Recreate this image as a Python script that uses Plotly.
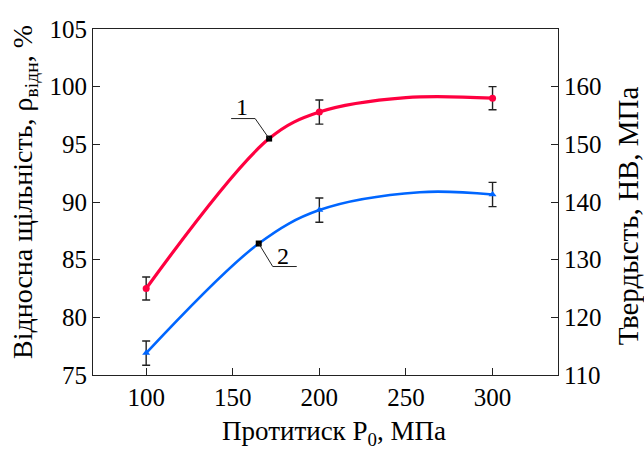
import plotly.graph_objects as go

# ---- data ----
# measured points (with error bars)
p_meas = [100, 200, 300]
dens_meas = [82.5, 97.8, 99.0]
dens_err = [1.0, 1.05, 1.0]
hard_meas = [113.8, 138.6, 141.3]
hard_err = [2.1, 2.1, 2.1]

# fitted curves
p_curve1 = [100, 171, 200, 250, 300]
dens_curve = [82.5, 95.5, 97.8, 99.05, 99.0]
p_curve2 = [100, 165, 200, 258, 300]
hard_curve = [113.8, 132.8, 138.6, 141.7, 141.3]

# labelled points on the curves
label1 = (171, 95.5)
label2 = (165, 132.8)

x_ticks = [100, 150, 200, 250, 300]
y1_ticks = [75, 80, 85, 90, 95, 100, 105]
y2_ticks = [110, 120, 130, 140, 150, 160]

RED = "#FF0040"
BLUE = "#0066FF"
FONT = "Liberation Serif, Times New Roman, DejaVu Serif, serif"

fig = go.Figure()

fig.add_trace(go.Scatter(x=p_curve1, y=dens_curve, mode="lines",
                         line=dict(color=RED, width=3.2, shape="spline", smoothing=1.0),
                         yaxis="y", hoverinfo="skip"))
fig.add_trace(go.Scatter(x=p_curve2, y=hard_curve, mode="lines",
                         line=dict(color=BLUE, width=2.6, shape="spline", smoothing=1.0),
                         yaxis="y2", hoverinfo="skip"))

fig.add_trace(go.Scatter(x=p_meas, y=dens_meas, mode="markers",
                         marker=dict(color=RED, size=7, symbol="circle"),
                         error_y=dict(type="data", array=dens_err, color="#222", thickness=1.4, width=4),
                         yaxis="y"))
fig.add_trace(go.Scatter(x=p_meas, y=hard_meas, mode="markers",
                         marker=dict(color=BLUE, size=7, symbol="triangle-up"),
                         error_y=dict(type="data", array=hard_err, color="#222", thickness=1.4, width=4),
                         yaxis="y2"))

fig.add_trace(go.Scatter(x=[label1[0]], y=[label1[1]], mode="markers",
                         marker=dict(color="black", size=6, symbol="square"), yaxis="y"))
fig.add_trace(go.Scatter(x=[label2[0]], y=[label2[1]], mode="markers",
                         marker=dict(color="black", size=6, symbol="square"), yaxis="y2"))

# leader lines (pixel offsets anchored at the labelled points)
fig.add_shape(type="path", xref="x", yref="y", xsizemode="pixel", ysizemode="pixel",
              xanchor=label1[0], yanchor=label1[1],
              path="M 0,0 L -14,20 L -38,20", line=dict(color="#222", width=1))
fig.add_shape(type="path", xref="x", yref="y2", xsizemode="pixel", ysizemode="pixel",
              xanchor=label2[0], yanchor=label2[1],
              path="M 0,0 L 14,-23 L 38,-23", line=dict(color="#222", width=1))

fig.add_annotation(x=label1[0], y=label1[1], xref="x", yref="y", text="1", showarrow=False,
                   xshift=-27, yshift=32, font=dict(family=FONT, size=24, color="black"))
fig.add_annotation(x=label2[0], y=label2[1], xref="x", yref="y2", text="2", showarrow=False,
                   xshift=24, yshift=-12, font=dict(family=FONT, size=24, color="black"))

# axis titles
fig.add_annotation(x=(334 - 93) / 464.7, y=-(433 - 375) / 346, xref="paper", yref="paper",
                   text="Протитиск P<sub>0</sub>, МПа", showarrow=False,
                   xanchor="center", yanchor="middle",
                   font=dict(family=FONT, size=27, color="black"))
fig.add_annotation(x=(24 - 93) / 464.7, y=(375 - 192) / 346, xref="paper", yref="paper",
                   text="Відносна щільність, ρ<sub>відн</sub>, %", showarrow=False, textangle=-90,
                   xanchor="center", yanchor="middle",
                   font=dict(family=FONT, size=28, color="black"))
fig.add_annotation(x=(628 - 93) / 464.7, y=(375 - 216) / 346, xref="paper", yref="paper",
                   text="Твердысть, НВ, МПа", showarrow=False, textangle=-90,
                   xanchor="center", yanchor="middle",
                   font=dict(family=FONT, size=29, color="black"))

axis_common = dict(showgrid=False, zeroline=False, showline=True, linecolor="#222", linewidth=1,
                   ticks="inside", ticklen=7, tickcolor="#222",
                   tickfont=dict(family=FONT, size=25, color="black"))

fig.update_layout(
    width=644, height=452,
    margin=dict(l=93, r=86, t=29, b=77),
    paper_bgcolor="white", plot_bgcolor="white",
    showlegend=False,
    font=dict(family=FONT),
    xaxis=dict(range=[69.3, 337.8], tickvals=x_ticks, mirror=True, **axis_common),
    yaxis=dict(range=[75, 105.0001], tickvals=y1_ticks, mirror=True, **axis_common),
    yaxis2=dict(range=[110, 170], tickvals=y2_ticks, overlaying="y", side="right", **axis_common),
)

fig.write_html("out.html")
